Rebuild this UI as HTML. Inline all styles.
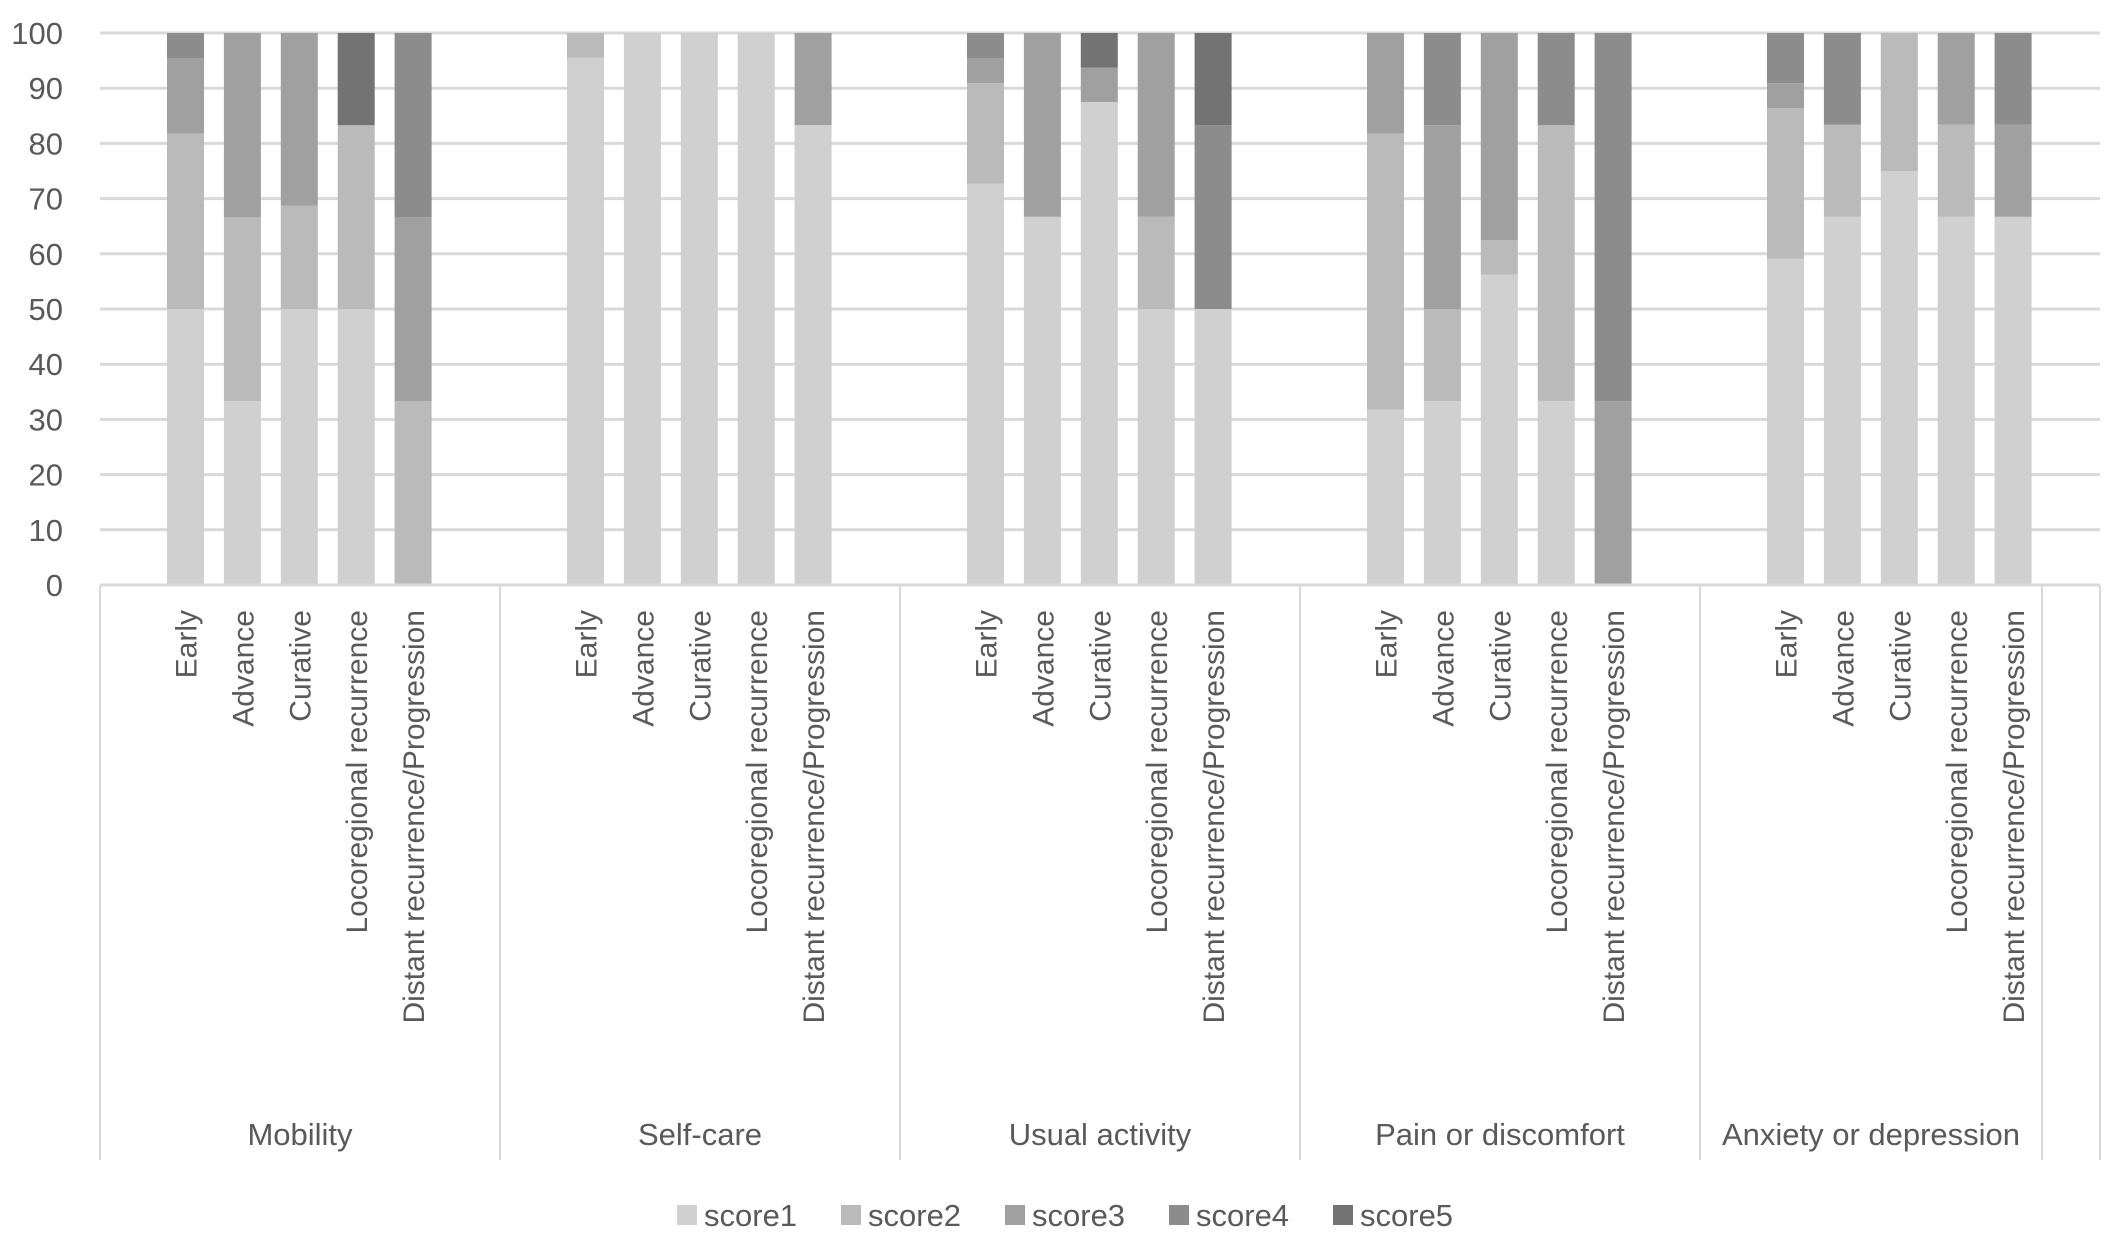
<!DOCTYPE html>
<html><head><meta charset="utf-8"><style>
html,body{margin:0;padding:0;background:#fff;}
svg{display:block;font-family:"Liberation Sans",sans-serif;}
</style></head><body>
<svg id="chart" width="2128" height="1234" viewBox="0 0 2128 1234" xmlns="http://www.w3.org/2000/svg">
<g id="grid"></g>
<g id="yaxis"></g>
<g id="bars"></g>
<g id="xaxis"></g>
<g id="legend"></g>
</svg>
<script>
const groups = ["Mobility","Self-care","Usual activity","Pain or discomfort","Anxiety or depression"];
const categories = ["Early","Advance","Curative","Locoregional recurrence","Distant recurrence/Progression"];
const seriesNames = ["score1","score2","score3","score4","score5"];
const yTicks = [0,10,20,30,40,50,60,70,80,90,100];
// values per series, ordered group by group, 5 categories each
const score1 = [50,33.3,50,50,0,  95.5,100,100,100,83.3,  72.7,66.7,87.5,50,50,  31.8,33.3,56.25,33.3,0,  59.1,66.7,75,66.7,66.7];
const score2 = [31.8,33.3,18.75,33.3,33.3,  4.5,0,0,0,0,  18.2,0,0,16.7,0,  50,16.7,6.25,50,0,  27.3,16.7,25,16.7,0];
const score3 = [13.6,33.4,31.25,0,33.3,  0,0,0,0,16.7,  4.5,33.3,6.25,33.3,0,  18.2,33.3,37.5,0,33.3,  4.5,0,0,16.6,16.7];
const score4 = [4.6,0,0,0,33.4,  0,0,0,0,0,  4.6,0,0,0,33.3,  0,16.7,0,16.7,66.7,  9.1,16.6,0,0,16.6];
const score5 = [0,0,0,16.7,0,  0,0,0,0,0,  0,0,6.25,0,16.7,  0,0,0,0,0,  0,0,0,0,0];
const series = [score1,score2,score3,score4,score5];
const colors = ["#d0d0d0","#bababa","#a0a0a0","#8c8c8c","#737373"];

const NS="http://www.w3.org/2000/svg";
const plotL=100, plotR=2100, y0=585, y100=33, groupW=400, barOff=85.5, barStep=56.9, barW=37;
function yScale(v){return y0-(v/100)*(y0-y100);}
function xCenter(g,c){return plotL+g*groupW+barOff+c*barStep;}
function mk(tag,attrs,parent){const e=document.createElementNS(NS,tag);for(const k in attrs)e.setAttribute(k,attrs[k]);parent.appendChild(e);return e;}

const grid=document.getElementById('grid'), yaxis=document.getElementById('yaxis');
yTicks.forEach(t=>{
  const l=mk('line',{x1:plotL,x2:plotR,y1:yScale(t),y2:yScale(t),stroke:'#d9d9d9','stroke-width':3},grid);
  
  
  const tx=mk('text',{x:63,y:yScale(t)+11,'text-anchor':'end','font-size':31,fill:'#595959'},yaxis);
  tx.textContent=t;
  
  
});

const bars=document.getElementById('bars');
groups.forEach((g,gi)=>{
  categories.forEach((c,ci)=>{
    const idx=gi*5+ci; let cum=0;
    series.forEach((s,si)=>{
      const v=s[idx]; if(v<=0) return;
      const top=yScale(cum+v), bot=yScale(cum);
      const r=mk('rect',{x:xCenter(gi,ci)-barW/2,y:top,width:barW,height:bot-top,fill:colors[si]},bars);
      
      
      cum+=v;
    });
  });
});

const xaxis=document.getElementById('xaxis');
const ax=mk('line',{x1:plotL,x2:plotR,y1:y0,y2:y0,stroke:'#d9d9d9','stroke-width':3},xaxis);


const seps=[100,500,900,1300,1700,2042,2100];
seps.forEach((sx,i)=>{
  const l=mk('line',{x1:sx,x2:sx,y1:y0,y2:1160,stroke:'#d9d9d9','stroke-width':2},xaxis);
  
  
});
groups.forEach((g,gi)=>{
  categories.forEach((c,ci)=>{
    const x=xCenter(gi,ci)+11;
    const t=mk('text',{x:x,y:610,transform:'rotate(-90 '+x+' 610)','text-anchor':'end','font-size':30,fill:'#595959'},xaxis);
    t.textContent=c;
    
    
  });
  const gc = gi<4 ? plotL+gi*groupW+groupW/2 : 1871;
  const gt=mk('text',{x:gc,y:1145,'text-anchor':'middle','font-size':31,fill:'#595959'},xaxis);
  gt.textContent=g;
  
  
});

const legend=document.getElementById('legend');
seriesNames.forEach((n,i)=>{
  const lx=677+i*164;
  const r=mk('rect',{x:lx,y:1205,width:20,height:20,fill:colors[i]},legend);
  
  
  const t=mk('text',{x:lx+27,y:1226,'font-size':31,fill:'#595959'},legend);
  t.textContent=n;
  
  
});
</script>
</body></html>
